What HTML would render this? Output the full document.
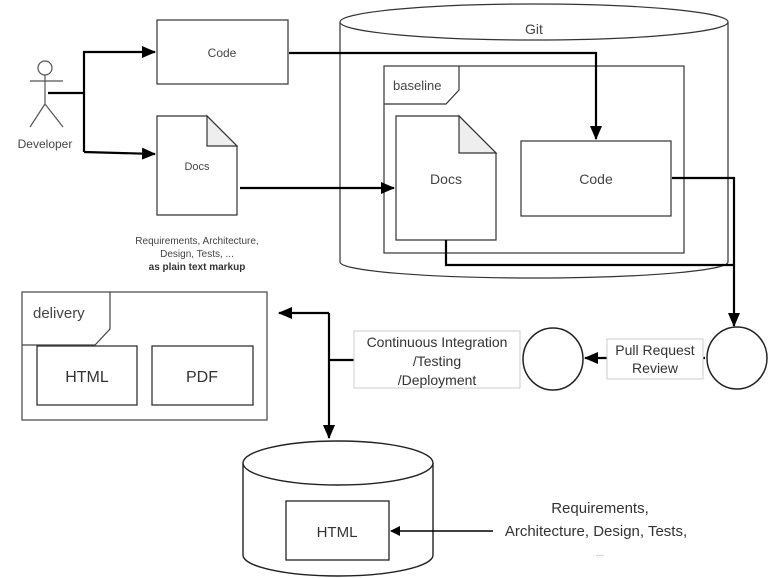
<!DOCTYPE html>
<html><head><meta charset="utf-8"><style>
html,body{margin:0;padding:0;background:#fff;}
svg{display:block;font-family:"Liberation Sans",sans-serif;}
</style></head><body>
<svg width="769" height="578" viewBox="0 0 769 578" xmlns="http://www.w3.org/2000/svg">
<defs>
<marker id="a" markerWidth="10" markerHeight="10" refX="9" refY="5" orient="auto" markerUnits="userSpaceOnUse"><path d="M0,0 L10,5 L0,10 Z" fill="#000"/></marker>
<marker id="b" markerWidth="14" markerHeight="12" refX="13" refY="6" orient="auto" markerUnits="userSpaceOnUse"><path d="M0,0 L14,6 L0,12 Z" fill="#000"/></marker>
</defs>
<!-- Git cylinder -->
<path d="M340,22 L340,262 A194,16 0 0 0 728,262 L728,22" fill="#fff" stroke="#333" stroke-width="1.2"/>
<ellipse cx="534" cy="22" rx="194" ry="18" fill="#fff" stroke="#333" stroke-width="1.2"/>
<text x="534" y="34" font-size="14" fill="#444" text-anchor="middle">Git</text>
<!-- baseline frame -->
<rect x="384" y="66" width="300" height="187" fill="#fff" stroke="#333" stroke-width="1.2"/>
<path d="M384,104 L446,104 L459,90 L459,66" fill="none" stroke="#333" stroke-width="1.2"/>
<text x="393" y="90" font-size="13" fill="#444">baseline</text>
<!-- inner docs -->
<path d="M396,116 L459,116 L496,153 L496,240 L396,240 Z" fill="#fff" stroke="#333" stroke-width="1.2"/>
<path d="M459,116 L459,153 L496,153 Z" fill="#eee" stroke="#333" stroke-width="1.2"/>
<text x="446" y="184" font-size="14" fill="#444" text-anchor="middle">Docs</text>
<rect x="521" y="141" width="150" height="75" fill="#fff" stroke="#333" stroke-width="1.2"/>
<text x="596" y="184" font-size="14" fill="#444" text-anchor="middle">Code</text>
<!-- left code/docs -->
<rect x="157" y="20" width="131" height="64" fill="#fff" stroke="#333" stroke-width="1.2"/>
<text x="222" y="57" font-size="12" fill="#444" text-anchor="middle">Code</text>
<path d="M157,116 L207,116 L237,146 L237,215 L157,215 Z" fill="#fff" stroke="#333" stroke-width="1.2"/>
<path d="M207,116 L207,146 L237,146 Z" fill="#eee" stroke="#333" stroke-width="1.2"/>
<text x="197" y="170" font-size="11" fill="#444" text-anchor="middle">Docs</text>
<text x="197" y="244" font-size="10" fill="#444" text-anchor="middle">Requirements, Architecture,</text>
<text x="197" y="257" font-size="10" fill="#444" text-anchor="middle">Design, Tests, ...</text>
<text x="197" y="270" font-size="10" font-weight="bold" fill="#333" text-anchor="middle">as plain text markup</text>
<!-- actor -->
<g stroke="#555" stroke-width="1.2" fill="none">
<circle cx="45" cy="68" r="7" fill="#fff"/>
<line x1="45" y1="75" x2="45" y2="104"/>
<line x1="30" y1="81" x2="63" y2="81"/>
<line x1="45" y1="104" x2="30" y2="127"/>
<line x1="45" y1="104" x2="63" y2="127"/>
</g>
<text x="45" y="148" font-size="12" fill="#444" text-anchor="middle">Developer</text>
<!-- connectors -->
<g stroke="#000" stroke-width="2.2" fill="none">
<path d="M48,93 L84,93"/>
<path d="M84,152 L84,52 L155,52" marker-end="url(#b)"/>
<path d="M84,152 L155,154" marker-end="url(#b)"/>
<path d="M289,53 L596,53 L596,139" marker-end="url(#b)"/>
<path d="M240,188 L394,188" marker-end="url(#b)"/>
<path d="M672,178 L734,178 L734,266 L734,326" marker-end="url(#b)"/>
<path d="M446,240 L446,265 L734,265"/>
<path d="M705,358 L585,358" marker-end="url(#b)"/>
<path d="M354,360 L329,360"/>
<path d="M329,313 L329,438" marker-end="url(#b)"/>
<path d="M329,313 L279,313" marker-end="url(#b)"/>
</g>
<!-- delivery -->
<rect x="22" y="292" width="245" height="128" fill="#fff" stroke="#444" stroke-width="1.2"/>
<path d="M22,345 L95,345 L110,329 L110,292" fill="none" stroke="#444" stroke-width="1.2"/>
<text x="33" y="318" font-size="15" fill="#444">delivery</text>
<rect x="37" y="346" width="100" height="59" fill="#fff" stroke="#333" stroke-width="1.3"/>
<text x="87" y="382" font-size="16" fill="#333" text-anchor="middle">HTML</text>
<rect x="152" y="346" width="101" height="59" fill="#fff" stroke="#333" stroke-width="1.3"/>
<text x="202" y="382" font-size="16" fill="#333" text-anchor="middle">PDF</text>
<!-- CI -->
<rect x="354" y="331" width="166" height="57" fill="#fff" stroke="#ccc" stroke-width="1"/>
<text x="437" y="347" font-size="14" fill="#333" text-anchor="middle">Continuous Integration</text>
<text x="437" y="366" font-size="14" fill="#333" text-anchor="middle">/Testing</text>
<text x="437" y="385" font-size="14" fill="#333" text-anchor="middle">/Deployment</text>
<ellipse cx="553" cy="359" rx="30" ry="31" fill="#fff" stroke="#222" stroke-width="1.5"/>
<rect x="607" y="339" width="96" height="40" fill="#fff" stroke="#ccc" stroke-width="1"/>
<text x="655" y="355" font-size="14" fill="#333" text-anchor="middle">Pull Request</text>
<text x="655" y="373" font-size="14" fill="#333" text-anchor="middle">Review</text>
<ellipse cx="737" cy="358" rx="30" ry="31" fill="#fff" stroke="#222" stroke-width="1.5"/>
<!-- bottom cylinder -->
<path d="M243,463 L243,555 A95,21 0 0 0 433,555 L433,463" fill="#fff" stroke="#222" stroke-width="1.4"/>
<ellipse cx="338" cy="463" rx="95" ry="22" fill="#fff" stroke="#222" stroke-width="1.4"/>
<rect x="286" y="501" width="103" height="59" fill="#fff" stroke="#222" stroke-width="1.3"/>
<text x="337" y="537" font-size="15" fill="#333" text-anchor="middle">HTML</text>
<path d="M493,531 L391,531" stroke="#000" stroke-width="1.5" fill="none" marker-end="url(#a)"/>
<text x="600" y="513" font-size="15" fill="#333" text-anchor="middle">Requirements,</text>
<text x="596" y="536" font-size="15" fill="#333" text-anchor="middle">Architecture, Design, Tests,</text>
<text x="600" y="556" font-size="10" fill="#999" text-anchor="middle">...</text>
</svg>
</body></html>
